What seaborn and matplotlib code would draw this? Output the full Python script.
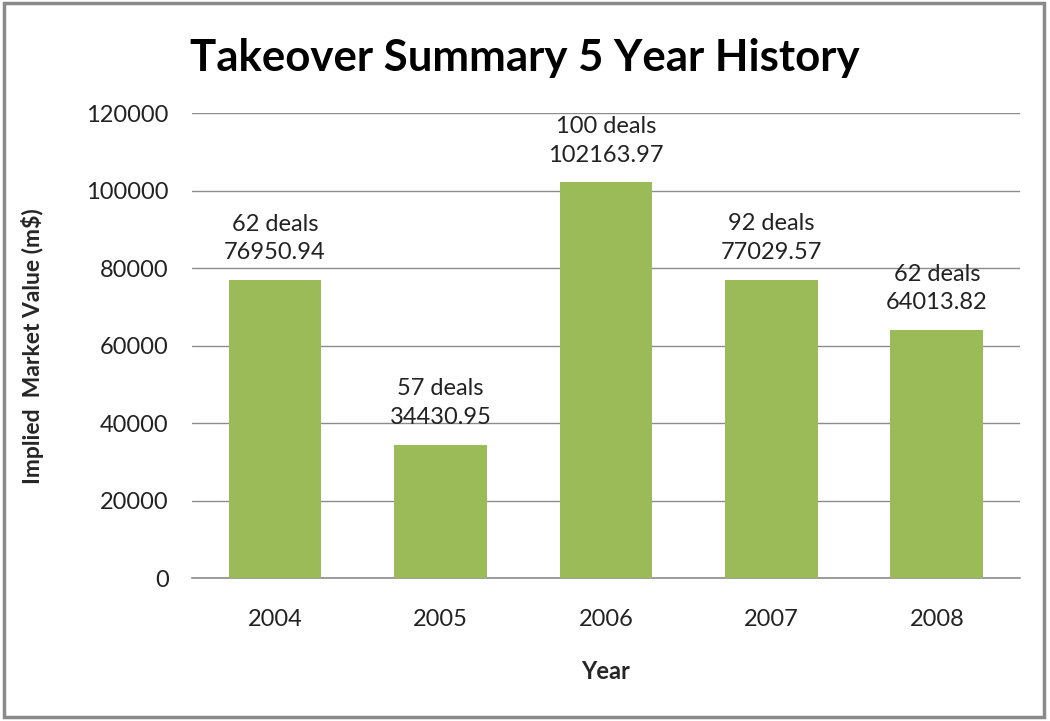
import matplotlib
matplotlib.use("Agg")
import matplotlib.pyplot as plt
import seaborn as sns
import pandas as pd
from matplotlib.patches import Rectangle

years = ['2004', '2005', '2006', '2007', '2008']
values = [76950.94, 34430.95, 102163.97, 77029.57, 64013.82]
deals = [62, 57, 100, 92, 62]

df = pd.DataFrame({'year': years, 'value': values, 'deals': deals})

sns.set_style("white")
plt.rcParams['font.family'] = ['Lato', 'DejaVu Sans']

fig = plt.figure(figsize=(10.5, 7.21), dpi=100)
ax = fig.add_axes([0.183, 0.198, 0.788, 0.645])

sns.barplot(data=df, x='year', y='value', color='#9BBB59', saturation=1,
            width=0.56, ax=ax, zorder=3, edgecolor='none', linewidth=0)

ax.set_ylim(0, 120000)
ax.set_yticks(range(0, 120001, 20000))
ax.yaxis.grid(True, color='#8c8c8c', linewidth=1, zorder=0)
ax.set_xlim(-0.5, 4.5)
for s in ['top', 'right', 'left']:
    ax.spines[s].set_visible(False)
ax.spines['bottom'].set_color('#8c8c8c')
ax.spines['bottom'].set_linewidth(1.2)
ax.tick_params(axis='both', length=0, labelsize=17, colors='#222222')
ax.tick_params(axis='y', pad=17)
ax.tick_params(axis='x', pad=22)

# two-line labels above each bar
for i, row in df.iterrows():
    ax.annotate(f"{row['deals']} deals\n{row['value']:.2f}", (i, row['value']),
                xytext=(0, 12), textcoords='offset points', ha='center', va='bottom',
                fontsize=17, color='#222222', linespacing=1.45)

ax.set_xlabel('Year', fontsize=17, fontweight='bold', labelpad=22)
ax.set_ylabel('Implied  Market Value (m$)', fontsize=16.5, fontweight='bold', labelpad=30)
fig.text(0.5, 0.92, 'Takeover Summary 5 Year History', fontsize=31.5,
         fontweight='bold', ha='center', va='center', color='black')

# outer chart frame
fig.patches.append(Rectangle((0.004, 0.006), 0.99, 0.99, transform=fig.transFigure,
                             fill=False, edgecolor='#8a8a8a', linewidth=2.5))

fig.savefig('out.png', dpi=100, facecolor='white')
